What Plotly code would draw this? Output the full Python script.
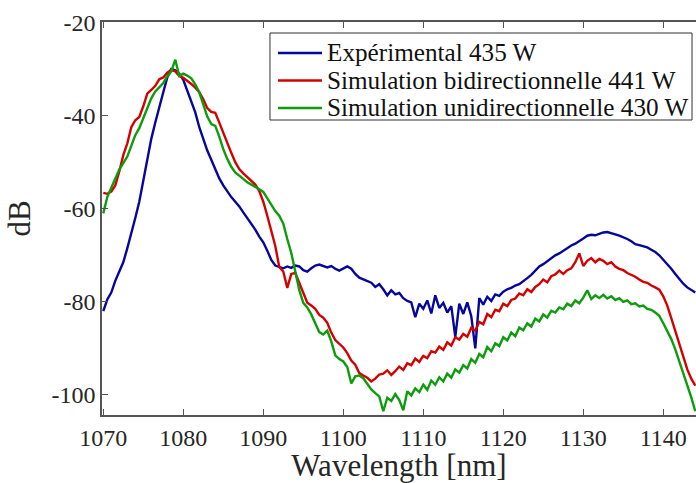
import numpy as np
import plotly.graph_objects as go

wavelength = np.arange(1070.0, 1144.01, 0.5)

experimental_435 = [
    -82, -79.5, -78, -75.5, -73.5, -71.5, -68.5, -65.5, -62, -58.5,
    -54, -49.5, -45, -41.5, -38.5, -35, -31.8, -30, -30.3, -31,
    -32.3, -34.5, -36.8, -39.3, -42.5, -45, -47.5, -49.5, -51.5, -53.5,
    -55, -56.3, -57.5, -58.5, -59.5, -60.8, -62, -63.3, -64.5, -66,
    -67.2, -69, -71, -72.2, -72.5, -72.8, -72.4, -72.7, -72.2, -72.4,
    -73.2, -73.5, -72.8, -72.2, -72, -72.3, -72.6, -72.3, -72.9, -73.3,
    -72.8, -72.4, -72.9, -74, -74.8, -75.2, -75.6, -75.9, -76.8, -76.2,
    -77.3, -78.6, -77.5, -78.4, -78.1, -79.2, -79.8, -80.1, -83.3, -80.4,
    -81.5, -79.7, -82.5, -78.6, -81.3, -80.2, -82.3, -80.9, -87.5, -80.4,
    -82.6, -80.1, -83.1, -90, -79.2, -80.6, -78.9, -79.8, -78.4, -78.7,
    -77.8, -77.3, -77, -76.5, -76.2, -75.6, -74.9, -74.2, -73.3, -72.4,
    -71.9, -71.3, -70.7, -70, -69.6, -69, -68.5, -67.9, -67.5, -67,
    -66.4, -65.8, -65.6, -65.7, -65.4, -65.1, -65, -65.2, -65.5, -65.8,
    -66.1, -66.5, -67, -67.6, -67.8, -68, -68.3, -68.8, -69.3, -70,
    -70.9, -71.9, -72.9, -74, -75.1, -76.1, -76.9, -77.5, -78,
]

simulation_bidir_441 = [
    -56.6, -56.8, -56.3, -55, -52, -48.5, -46, -42.5, -41, -40.3,
    -38, -35.3, -34.5, -33.6, -32.2, -31.8, -30.8, -30.2, -30.5, -31.5,
    -31.9, -32.5, -33.2, -34, -35, -36.5, -38.4, -39.2, -39.4, -41.5,
    -43.8, -46, -48, -50, -51.5, -52.4, -53.2, -53.9, -54.8, -56.2,
    -58.5, -61.5, -65, -68, -72.5, -73.5, -77, -74, -73.8, -76,
    -78, -80.2, -80.8, -81.5, -82.8, -83.4, -84.5, -86.6, -88.2, -88.9,
    -89.8, -91, -92.6, -93.5, -95.3, -95.8, -96.3, -97.1, -96.5, -95.6,
    -95.4, -94.7, -95.7, -94.9, -93.9, -94.6, -93.2, -93.6, -92.2, -92.9,
    -91.6, -92.1, -90.6, -90.9, -89.6, -90.3, -88.7, -89.4, -87.6, -88.1,
    -86.9, -87.5, -85.6, -86.2, -84.3, -84.8, -82.6, -83.3, -81.7, -82,
    -80.4, -80.9, -79.6, -79.3, -78.2, -78.6, -77.3, -77.9, -76.8, -76.2,
    -75.2, -75.8, -74.5, -74.1, -73.3, -74, -73.2, -72.8, -71.5, -69.6,
    -72.3, -71.2, -70.6, -71.5, -70.8, -71.2, -71.9, -71.5, -72.4, -72.9,
    -73.2, -73.8, -74.2, -74.6, -75.2, -75.7, -75.9, -76.5, -76.9, -77.4,
    -78.8, -80.8, -83.5, -86.3, -89, -91.8, -94.5, -96.5, -98,
]

simulation_unidir_430 = [
    -61, -57.5, -55.5, -53.5, -51.6, -50.2, -48.8, -46.5, -44.2, -42.7,
    -40.5, -38.2, -36.3, -34.8, -34, -33, -31.6, -30.5, -28, -31.5,
    -31, -31.4, -32, -33.3, -35, -37.4, -40.2, -41.8, -42.2, -44.5,
    -47.2, -49.3, -51, -52.2, -53, -53.6, -54.3, -54.8, -55.2, -55.8,
    -56.4, -57.8, -59, -60.5, -61.5, -63.2, -66.5, -69.5, -73.5, -77.5,
    -80.2, -81.2, -82.7, -84.5, -86.5, -87, -86.2, -88.5, -91.5, -92.3,
    -92.8, -94, -97.5, -96, -95.8, -96.4, -97.6, -98.8, -99.6, -100.3,
    -103.5, -100.6, -101.3, -99.8, -101.1, -103.3, -99.2, -100.1, -98.6, -99.4,
    -97.8, -98.9, -96.9, -97.8, -96.2, -97.1, -95.4, -96.3, -94.5, -95.2,
    -93.6, -94.3, -92.3, -93.1, -91.2, -91.9, -89.7, -90.6, -88.9, -89.5,
    -87.6, -88.3, -86.6, -87.4, -85.5, -86.1, -84.6, -85.3, -83.6, -84.2,
    -82.7, -83.4, -81.9, -82.3, -81.2, -81.6, -80.4, -80.9, -79.7, -80.3,
    -79.1, -77.5, -79.4, -78.6, -79.2, -78.5, -79.3, -78.8, -79.6, -79.2,
    -80, -79.7, -80.5, -80.3, -81, -80.8, -81.5, -81.7, -82.3, -83,
    -84.6, -86.2, -88, -90.2, -92.8, -95.3, -97.5, -100.5, -103.5,
]

series_names = [
    "Expérimental 435 W",
    "Simulation bidirectionnelle 441 W",
    "Simulation unidirectionnelle 430 W",
]
series_colors = ["#06069c", "#d40000", "#0c9c0c"]
series_values = [experimental_435, simulation_bidir_441, simulation_unidir_430]

x_ticks = [1070, 1080, 1090, 1100, 1110, 1120, 1130, 1140]
y_ticks = [-100, -80, -60, -40, -20]
y_tick_labels = ["-100", "-80", "-60", "-40", "-20"]

FONT = "Liberation Serif, Times New Roman, serif"

fig = go.Figure()
for name, color, vals in zip(series_names, series_colors, series_values):
    fig.add_trace(go.Scatter(
        x=wavelength, y=vals, mode="lines", name=name,
        line=dict(color=color, width=2.4), showlegend=False,
    ))

# Legend box drawn in paper coordinates (MATLAB-style compact legend)
leg_x0, leg_x1, leg_y0, leg_y1 = 0.2828, 0.9933, 0.7506, 0.972
line_x0, line_x1, text_x = 0.2963, 0.3704, 0.3754
row_y = [0.9212, 0.8512, 0.7812]

shapes = [dict(type="rect", xref="paper", yref="paper",
               x0=leg_x0, x1=leg_x1, y0=leg_y0, y1=leg_y1,
               line=dict(color="#333333", width=1), fillcolor="white", layer="above")]
annotations = []
for name, color, ry in zip(series_names, series_colors, row_y):
    shapes.append(dict(type="line", xref="paper", yref="paper",
                       x0=line_x0, x1=line_x1, y0=ry, y1=ry,
                       line=dict(color=color, width=2.4), layer="above"))
    annotations.append(dict(xref="paper", yref="paper", x=text_x, y=ry,
                            xanchor="left", yanchor="middle", showarrow=False,
                            text=name, font=dict(family=FONT, size=25.2, color="#111111")))

fig.update_layout(
    width=696, height=483,
    margin=dict(l=102, r=0, t=22, b=68),
    paper_bgcolor="white", plot_bgcolor="white",
    font=dict(family=FONT, color="#262626", size=24),
    showlegend=False,
    shapes=shapes,
    annotations=annotations,
)
fig.update_xaxes(
    range=[1069.84, 1144.09], tickvals=x_ticks,
    showgrid=False, zeroline=False,
    showline=True, linecolor="#555555", linewidth=1.5, mirror="ticks",
    ticks="inside", ticklen=6, tickcolor="#555555", tickwidth=1.2,
    tickfont=dict(size=24),
    title=dict(text="Wavelength [nm]", font=dict(size=31), standoff=10),
)
fig.update_yaxes(
    range=[-104.3, -19.9], tickvals=y_ticks, ticktext=y_tick_labels,
    showgrid=False, zeroline=False,
    showline=True, linecolor="#555555", linewidth=1.5, mirror=False,
    ticks="inside", ticklen=6, tickcolor="#555555", tickwidth=1.2,
    tickfont=dict(size=24),
    title=dict(text="dB", font=dict(size=31), standoff=12),
)

fig.write_html("out.html")
